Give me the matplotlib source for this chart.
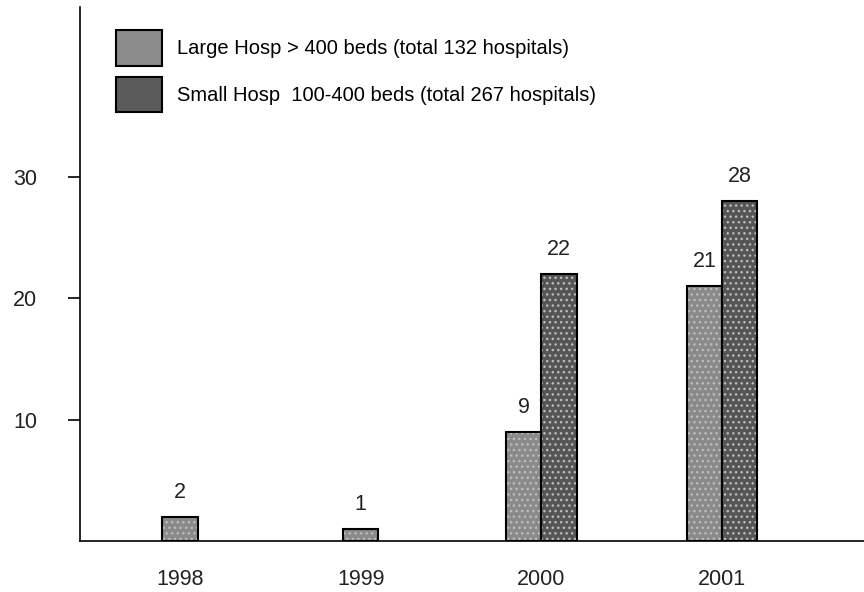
import matplotlib
matplotlib.use("Agg")
import matplotlib.pyplot as plt
from matplotlib.patches import Patch
import numpy as np

plt.rcParams['font.family'] = ['Liberation Sans', 'DejaVu Sans']

years = ["1998", "1999", "2000", "2001"]
large_hosp = [2, 1, 9, 21]
small_hosp = [0, 0, 22, 28]
large_label = "Large Hosp > 400 beds (total 132 hospitals)"
small_label = "Small Hosp  100-400 beds (total 267 hospitals)"

large_color = "#8a8a8a"
small_color = "#555555"
dot_color = "#bdbdbd"


def main():
    fig = plt.figure(figsize=(8.64, 5.92), dpi=100)
    ax = fig.add_axes([80 / 864, 51 / 592, 784 / 864, 534 / 592])

    x = np.arange(len(years))
    w = 0.195
    large = np.array(large_hosp)
    small = np.array(small_hosp)
    # single bar is centred when the other series has nothing
    off = np.where(small > 0, w / 2, 0)

    for xs, vals, col in [(x - off, large, large_color), (x + off, small, small_color)]:
        keep = vals > 0
        plt.rcParams['hatch.color'] = dot_color
        ax.bar(xs[keep], vals[keep], w, color=col, hatch="...", edgecolor=dot_color, linewidth=0)
        ax.bar(xs[keep], vals[keep], w, facecolor="none", edgecolor="black", linewidth=1.5)
        for xi, v in zip(xs[keep], vals[keep]):
            ax.annotate(str(v), (xi, v), xytext=(0, 10), textcoords="offset points",
                        ha="center", va="bottom", fontsize=15.5, color="#222222")

    ax.set_xlim(-0.553, 3.785)
    ax.set_ylim(0, 44)
    ax.set_xticks(x)
    ax.set_xticklabels(years, fontsize=15.5, color="#222222")
    ax.set_yticks([10, 20, 30])
    ax.set_yticklabels(["10", "20", "30"], fontsize=15.5, color="#222222")
    ax.tick_params(axis="x", length=0, pad=20)
    ax.tick_params(axis="y", length=9, width=1.2, pad=22)
    ax.spines["top"].set_visible(False)
    ax.spines["right"].set_visible(False)
    ax.spines["left"].set_linewidth(1.2)
    ax.spines["bottom"].set_linewidth(1.2)

    handles = [Patch(facecolor="#8c8c8c", edgecolor="black", linewidth=1.5),
               Patch(facecolor="#5a5a5a", edgecolor="black", linewidth=1.5)]
    fig.legend(handles, [large_label, small_label], loc="upper left",
               bbox_to_anchor=(116 / 864, 1 - 30 / 592), frameon=False,
               fontsize=14.5, handlelength=2.3, handleheight=2.35,
               handletextpad=0.75, labelspacing=0.55, borderpad=0, borderaxespad=0)

    fig.savefig("out.png", dpi=100)


if __name__ == '__main__':
    main()
